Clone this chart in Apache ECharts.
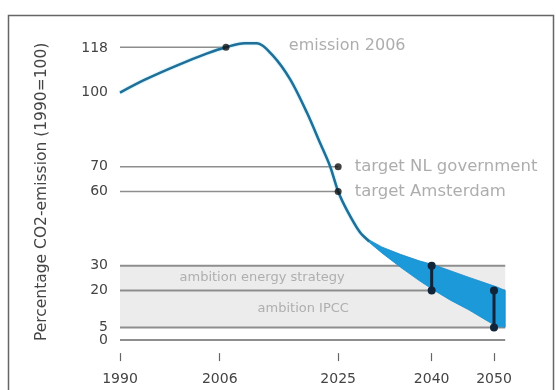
<!DOCTYPE html>
<html>
<head>
<meta charset="utf-8">
<script src="https://cdn.jsdelivr.net/npm/echarts@6/dist/echarts.min.js"></script>
<style>
  html, body { margin: 0; padding: 0; background: #fff; }
  #chart { width: 556px; height: 390px; }
</style>
</head>
<body>
<div id="chart"></div>
<script>
// Emission path of Amsterdam, index 1990 = 100
const xTicks = [1990, 2006, 2025, 2040, 2050];
const yTicks = [5, 20, 30, 60, 70, 100, 118];
const yBaseTick = [0];

// Historic and projected emission curve (year, index)
const pathYears  = [1990, 1994, 1999, 2004, 2007, 2010, 2012, 2014.5, 2017.3, 2020, 2022.1, 2023.7, 2025, 2026.4, 2028.5, 2030];
const pathValues = [100, 105.2, 110.8, 115.8, 118.3, 119.9, 119.9, 115, 105.3, 91.8, 79.6, 70.2, 60, 52.5, 43.5, 39.8];

// Uncertainty band after 2028 (upper and lower edge)
const bandYears = [2028.5, 2030, 2032, 2035, 2038, 2040.3, 2043, 2046, 2049, 2050.5, 2051.8];
const bandUpper = [43.5, 40.4, 37.6, 34.6, 32.0, 30.4, 28.0, 25.3, 22.7, 21.4, 20.0];
const bandLower = [43.5, 39.4, 35.2, 29.4, 24.0, 20.2, 16.1, 12.1, 7.6, 5.4, 5.2];

// Marked points
const emission2006 = [2007, 118.3];
const targetNL = [2025, 70];
const targetAmsterdam = [2025, 60];

// Ambition ranges
const ambitionEnergy = [20, 30];
const ambitionIPCC = [5, 20];
const rangeEndYear = 2051.8;

// Target intervals checked at 2040 and 2050
const check2040 = [[2040, 30], [2040, 20]];
const check2050 = [[2050, 20], [2050, 5]];

const FONT = 'DejaVu Sans';
const GREY_LINE = '#8e8e8e';
const NOTE_GREY = '#999999';
const Y_MIN = -5.3, Y_MAX = 125;

function levelLine(y, x0, x1, width) {
  return {
    type: 'line', symbol: 'none', silent: true, z: 2,
    lineStyle: { color: GREY_LINE, width: width },
    data: [[x0, y], [x1, y]]
  };
}

const pathData = pathYears.map((y, i) => [y, pathValues[i]]);
const bandData = bandYears.map((y, i) => [y, bandUpper[i], bandLower[i]]);

// the band is one polygon: along the upper edge, back along the lower edge
function renderBand(params, api) {
  if (params.dataIndex !== 0) return null;
  const top = bandData.map(d => api.coord([d[0], d[1]]));
  const bottom = bandData.map(d => api.coord([d[0], d[2]])).reverse();
  return {
    type: 'polygon',
    shape: { points: top.concat(bottom) },
    style: { fill: '#1b99d8', stroke: '#1b8ccb', lineWidth: 0.8 }
  };
}

const yLabelStyle = { margin: 12, fontSize: 14, color: '#444', fontFamily: FONT, formatter: v => String(v) };

const chart = echarts.init(document.getElementById('chart'));
chart.setOption({
  animation: false,
  backgroundColor: '#ffffff',
  textStyle: { fontFamily: FONT },
  grid: { left: 120, right: 24.6, top: 30.67, bottom: 36.9, containLabel: false },
  xAxis: {
    type: 'value', min: 1990, max: 2056,
    axisLine: { show: false, onZero: false },
    splitLine: { show: false },
    axisTick: { show: true, customValues: xTicks, length: 8, lineStyle: { color: '#666', width: 1.2 } },
    axisLabel: { customValues: xTicks, margin: 19, fontSize: 14, color: '#444', fontFamily: FONT,
                 formatter: v => String(v) }
  },
  yAxis: [{
    type: 'value', min: Y_MIN, max: Y_MAX, position: 'left',
    axisLine: { show: false, onZero: false },
    axisTick: { show: false },
    splitLine: { show: false },
    axisLabel: Object.assign({ customValues: yTicks }, yLabelStyle),
    name: 'Percentage CO2-emission (1990=100)',
    nameLocation: 'middle', nameRotate: 90, nameGap: 70,
    nameTextStyle: { fontSize: 15.5, color: '#444', fontFamily: FONT }
  }, {
    // baseline label kept on its own axis so it sits right under the 5
    type: 'value', min: Y_MIN, max: Y_MAX, position: 'left', offset: 0,
    axisLine: { show: false, onZero: false },
    axisTick: { show: false },
    splitLine: { show: false },
    axisLabel: Object.assign({ customValues: yBaseTick }, yLabelStyle)
  }],
  graphic: [{
    type: 'rect', silent: true, z: 0,
    shape: { x: 8.5, y: 15.5, width: 545, height: 400 },
    style: { fill: 'none', stroke: '#666', lineWidth: 1.5 }
  }],
  series: [
    // ambition ranges as a grey band
    {
      type: 'line', symbol: 'none', silent: true, z: 1,
      lineStyle: { opacity: 0 },
      data: [[1990, ambitionIPCC[0]], [rangeEndYear, ambitionIPCC[0]]],
      markArea: {
        silent: true,
        itemStyle: { color: '#ececec' },
        data: [[{ xAxis: 1990, yAxis: ambitionIPCC[0] }, { xAxis: rangeEndYear, yAxis: ambitionEnergy[1] }]]
      }
    },
    levelLine(emission2006[1], 1990, emission2006[0], 1.5),
    levelLine(targetNL[1], 1990, targetNL[0], 1.5),
    levelLine(targetAmsterdam[1], 1990, targetAmsterdam[0], 1.5),
    levelLine(ambitionEnergy[1], 1990, rangeEndYear, 2),
    levelLine(ambitionEnergy[0], 1990, rangeEndYear, 2),
    levelLine(ambitionIPCC[0], 1990, rangeEndYear, 2),
    levelLine(0, 1990, rangeEndYear, 2),
    // range labels
    {
      type: 'scatter', silent: true, z: 3, symbolSize: 1,
      itemStyle: { color: 'transparent' },
      label: { show: true, position: 'inside', fontSize: 13, color: '#9f9f9f', fontFamily: FONT,
               formatter: p => p.data.name },
      data: [
        { name: 'ambition energy strategy', value: [2012.8, (ambitionEnergy[0] + ambitionEnergy[1]) / 2] },
        { name: 'ambition IPCC', value: [2019.4, (ambitionIPCC[0] + ambitionIPCC[1]) / 2] }
      ]
    },
    // uncertainty band
    {
      type: 'custom', silent: true, z: 4,
      renderItem: renderBand,
      data: bandData
    },
    // emission curve
    {
      type: 'line', symbol: 'none', silent: true, z: 5, smooth: 0.3,
      lineStyle: { color: '#1f6f98', width: 2.5, shadowColor: 'rgba(90,200,230,0.6)', shadowBlur: 2 },
      data: pathData
    },
    // checks at 2040 and 2050
    {
      type: 'line', symbol: 'circle', symbolSize: 8, silent: true, z: 6,
      lineStyle: { color: '#10243a', width: 3 },
      itemStyle: { color: '#10243a' },
      data: check2040
    },
    {
      type: 'line', symbol: 'circle', symbolSize: 8, silent: true, z: 6,
      lineStyle: { color: '#10243a', width: 3 },
      itemStyle: { color: '#10243a' },
      data: check2050
    },
    // marked points with their labels
    {
      type: 'scatter', symbolSize: 7, silent: true, z: 7,
      itemStyle: { color: '#111' },
      label: { show: true, position: 'right', distance: 13, fontSize: 16.5, color: NOTE_GREY, fontFamily: FONT,
               formatter: p => p.data.name },
      data: [
        { name: 'target NL government', value: targetNL },
        { name: 'target Amsterdam', value: targetAmsterdam }
      ]
    },
    {
      type: 'scatter', symbolSize: 7, silent: true, z: 7,
      itemStyle: { color: '#111' },
      data: [emission2006]
    },
    {
      type: 'scatter', symbolSize: 1, silent: true, z: 7,
      itemStyle: { color: 'transparent' },
      label: { show: true, position: 'right', distance: 0, fontSize: 16, color: NOTE_GREY, fontFamily: FONT,
               formatter: p => p.data.name },
      data: [{ name: 'emission 2006', value: [2017, 118.8] }]
    }
  ]
});
</script>
</body>
</html>
